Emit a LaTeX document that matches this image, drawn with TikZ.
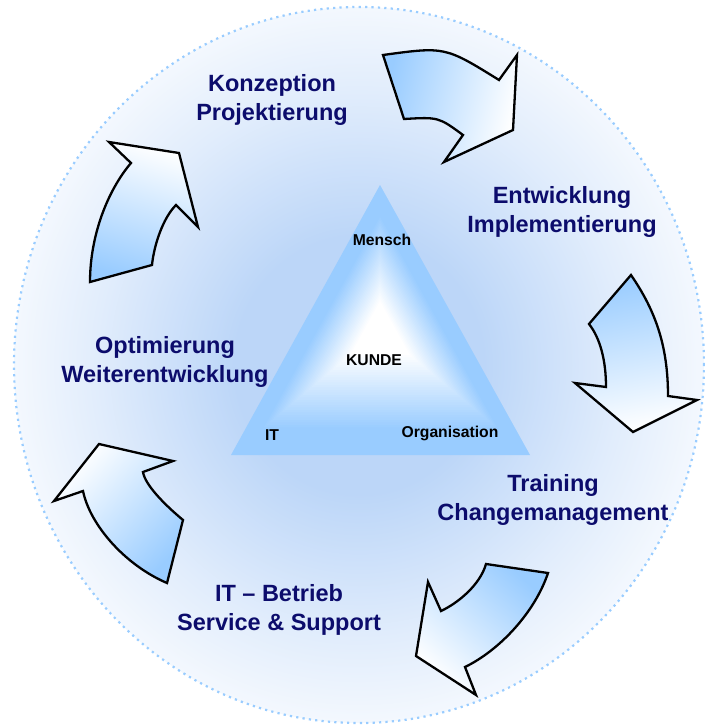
\documentclass[tikz,border=0pt]{standalone}
\usepackage{fontspec}
\setmainfont{Liberation Sans}
\usepackage{xcolor}
\definecolor{navytext}{HTML}{0C0C6C}
\definecolor{arrowblue}{HTML}{99CCFF}
\definecolor{haloblue}{HTML}{BCD6F8}
\definecolor{rimblue}{HTML}{99CCFF}
\usepackage{tikz}
\usetikzlibrary{calc}
\pgfdeclareradialshading{halo}{\pgfpoint{0bp}{0bp}}{color(0bp)=(haloblue); color(9bp)=(haloblue); color(19bp)=(haloblue!45!white); color(27bp)=(haloblue!8!white); color(33bp)=(white); color(50bp)=(white)}
\tikzset{
  stage/.style={font=\fontsize{23.5}{29}\selectfont\bfseries, text=navytext, align=center},
  corner/.style={font=\fontsize{15.7}{18}\selectfont\bfseries, text=black, anchor=base},
  cyclearrow/.style={draw=black, line width=2.3pt, line join=miter, top color=arrowblue, bottom color=white}
}

\begin{document}
\begin{tikzpicture}[x=1pt, y=-1pt]
  \useasboundingbox (0,0) rectangle (704,725);
  % halo and dotted rim
  \shade[shading=halo] (359,365) ellipse [x radius=345pt, y radius=358pt];
  \draw[rimblue, line width=2.2pt, dash pattern=on 2.2pt off 4.2pt] (359,365) ellipse [x radius=345pt, y radius=358pt];

  % triangle, shaded from the core outwards
  \coordinate (apex) at (380,185);
  \coordinate (baseleft) at (231,455);
  \coordinate (baseright) at (530,455);
  \coordinate (core) at (380,330);
  \foreach \s in {1.00,0.98,...,0.02} {
    \pgfmathsetmacro\tint{max(0,min(100,100*(\s-0.2)/0.6))}
    \fill[arrowblue!\tint!white] ($(core)!\s!(apex)$) -- ($(core)!\s!(baseleft)$) -- ($(core)!\s!(baseright)$) -- cycle;
  }
  \node[corner] (mensch) at (382,245) {Mensch};
  \node[corner] (kunde) at (374,365) {KUNDE};
  \node[corner] (it) at (272,440) {IT};
  \node[corner] (organisation) at (450,437) {Organisation};

  % the five cycle arrows
  \shadedraw[cyclearrow, shading angle=77] (383,55) .. controls (445,46.5) .. (499,80) -- (517,55) -- (513,130) -- (444,162) -- (463,135) .. controls (438.5,117) .. (404,119) -- cycle;
  \shadedraw[cyclearrow, shading angle=11] (631,275) -- (589,324) .. controls (600,338) and (606,360) .. (606,387) -- (575,383) -- (633,432) -- (697,400) -- (668,396) .. controls (668,345) and (655,310) .. cycle;
  \shadedraw[cyclearrow, shading angle=-43] (486,564) -- (548,573) .. controls (535,612) and (500,650) .. (465,667) -- (476,695) -- (416,656) -- (428,582) -- (441,611) .. controls (458,603) and (480,585) .. cycle;
  \shadedraw[cyclearrow, shading angle=-133] (167,583) -- (183,520) .. controls (165,505) and (145,485) .. (143,472) -- (173,461) -- (99,444) -- (54,501) -- (83,491) .. controls (90,525) and (125,565) .. cycle;
  \shadedraw[cyclearrow, shading angle=164] (90,282) -- (152,265) .. controls (154,245) and (163,218) .. (176,205) -- (198,227) -- (179,153) -- (109,142) -- (131,163) .. controls (108,190) and (90,235) .. cycle;

  % stages
  \node[stage] (konzeption) at (272,99.6) {Konzeption\\Projektierung};
  \node[stage] (entwicklung) at (562,211.6) {Entwicklung\\Implementierung};
  \node[stage] (optimierung) at (165,361.6) {Optimierung\\Weiterentwicklung};
  \node[stage] (training) at (553,500) {Training\\Changemanagement};
  \node[stage] (betrieb) at (279,610) {IT – Betrieb\\Service \& Support};
\end{tikzpicture}
\end{document}
